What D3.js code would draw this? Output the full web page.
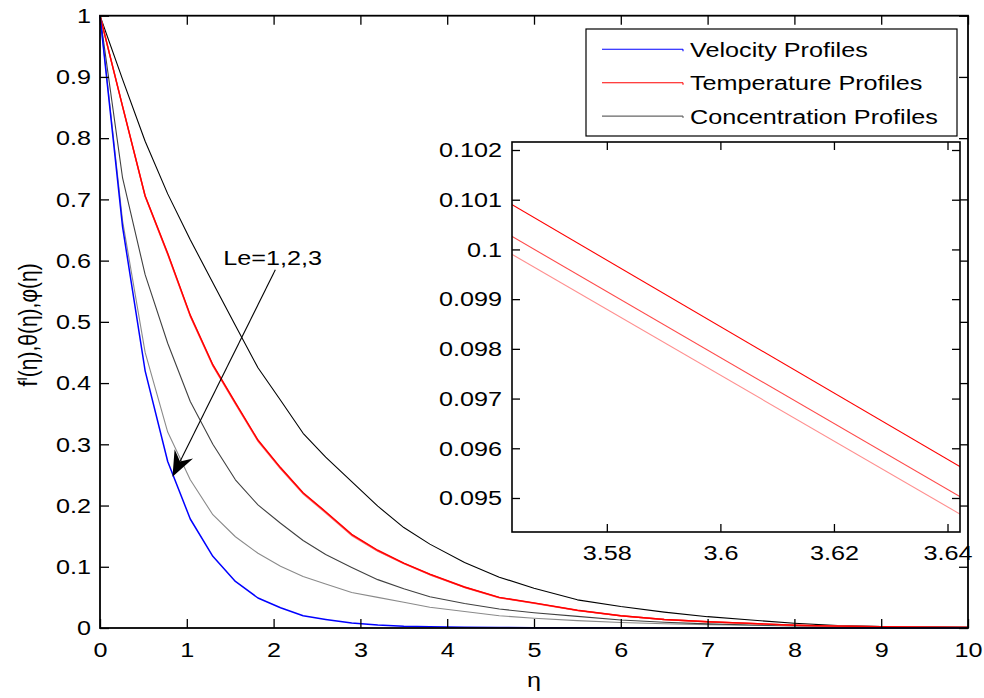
<!DOCTYPE html>
<html>
<head>
<meta charset="utf-8">
<script src="https://cdn.jsdelivr.net/npm/d3@7"></script>
<style>
  html, body { margin: 0; padding: 0; background: #fff; }
  svg { display: block; font-family: "Liberation Sans", Arial, sans-serif; }
</style>
</head>
<body>
<svg id="chart" width="984" height="698"></svg>
<script>
// ---------------- data ----------------
const eta = [0, 0.26, 0.52, 0.78, 1.04, 1.30, 1.56, 1.82, 2.08, 2.34, 2.6, 2.9, 3.2, 3.5, 3.8, 4.2, 4.6, 5.0, 5.5, 6.0, 6.5, 7.0, 7.5, 8.0, 8.5, 9.0, 9.5, 10];
const velocity = [1, 0.655, 0.42, 0.272, 0.178, 0.117, 0.076, 0.049, 0.033, 0.020, 0.014, 0.008, 0.005, 0.003, 0.002, 0.0012, 0.0008, 0.0005, 0.0004, 0.0003, 0.0002, 0.0002, 0.0001, 0.0001, 0.0001, 0.0001, 0, 0];
const tempLe1 = [1, 0.852, 0.706, 0.612, 0.511, 0.430, 0.368, 0.307, 0.262, 0.221, 0.190, 0.153, 0.127, 0.106, 0.088, 0.067, 0.050, 0.041, 0.029, 0.020, 0.014, 0.0103, 0.0075, 0.0045, 0.003, 0.002, 0.0013, 0.001];
const tempLe2 = [1, 0.852, 0.705, 0.611, 0.510, 0.429, 0.367, 0.306, 0.261, 0.220, 0.189, 0.152, 0.126, 0.1054, 0.0874, 0.0665, 0.0496, 0.0407, 0.0288, 0.0199, 0.0139, 0.0102, 0.0074, 0.0045, 0.003, 0.002, 0.0013, 0.001];
const tempLe3 = [1, 0.852, 0.705, 0.610, 0.509, 0.428, 0.366, 0.305, 0.260, 0.219, 0.188, 0.151, 0.1255, 0.105, 0.087, 0.0662, 0.0494, 0.0405, 0.0286, 0.0198, 0.0138, 0.0101, 0.0073, 0.0044, 0.003, 0.002, 0.0013, 0.001];
const concLe1 = [1, 0.896, 0.795, 0.709, 0.634, 0.564, 0.494, 0.425, 0.372, 0.318, 0.279, 0.239, 0.199, 0.164, 0.137, 0.107, 0.083, 0.065, 0.046, 0.035, 0.026, 0.0185, 0.013, 0.0077, 0.0038, 0.0025, 0.0018, 0.001];
const concLe2 = [1, 0.735, 0.577, 0.465, 0.370, 0.300, 0.242, 0.201, 0.171, 0.143, 0.120, 0.099, 0.079, 0.064, 0.051, 0.040, 0.031, 0.025, 0.019, 0.013, 0.0095, 0.0068, 0.005, 0.0038, 0.003, 0.0022, 0.0015, 0.001];
const concLe3 = [1, 0.665, 0.450, 0.320, 0.242, 0.185, 0.149, 0.122, 0.101, 0.084, 0.072, 0.058, 0.050, 0.042, 0.034, 0.027, 0.020, 0.0158, 0.012, 0.009, 0.007, 0.0055, 0.0045, 0.0035, 0.0025, 0.002, 0.0015, 0.001];

const xTicks = [0, 1, 2, 3, 4, 5, 6, 7, 8, 9, 10];
const yTicks = [0, 0.1, 0.2, 0.3, 0.4, 0.5, 0.6, 0.7, 0.8, 0.9, 1];
const yTickLabels = ["0", "0.1", "0.2", "0.3", "0.4", "0.5", "0.6", "0.7", "0.8", "0.9", "1"];

// inset (zoom of temperature profiles)
const insetEta = [3.56, 3.65];
const insetTempLe1 = [0.10112, 0.09511];
const insetTempLe2 = [0.10048, 0.09451];
const insetTempLe3 = [0.10012, 0.09416];
const insetXTicks = [3.58, 3.6, 3.62, 3.64];
const insetXTickLabels = ["3.58", "3.6", "3.62", "3.64"];
const insetYTicks = [0.095, 0.096, 0.097, 0.098, 0.099, 0.1, 0.101, 0.102];
const insetYTickLabels = ["0.095", "0.096", "0.097", "0.098", "0.099", "0.1", "0.101", "0.102"];

const legendLabels = ["Velocity Profiles", "Temperature Profiles", "Concentration Profiles"];
const annotationText = "Le=1,2,3";
const arrowFrom = [2.02, 0.585];
const arrowTo = [0.835, 0.247];
const textAt = [1.42, 0.593];

// ---------------- drawing ----------------
const SX = 1.2; // horizontal stretch of the original figure's text
const FS = 21;
const svg = d3.select("#chart");

const x = d3.scaleLinear().domain([0, 10]).range([100, 968]);
const y = d3.scaleLinear().domain([0, 1]).range([628, 15.7]);

const zip = (xs, ys) => xs.map((v, i) => [v, ys[i]]);
const line = d3.line().x(d => x(d[0])).y(d => y(d[1]));

const curves = svg.append("g").attr("fill", "none");
const series = [
  { v: concLe3, c: "#8a8a8a", w: 1.1 },
  { v: concLe2, c: "#404040", w: 1.1 },
  { v: concLe1, c: "#000000", w: 1.1 },
  { v: tempLe3, c: "#ff8a8a", w: 1.4 },
  { v: tempLe2, c: "#ff4040", w: 1.4 },
  { v: tempLe1, c: "#ff0000", w: 1.4 },
  { v: velocity, c: "#0000ff", w: 1.5 }
];
series.forEach(s => {
  curves.append("path").attr("d", line(zip(eta, s.v)))
    .attr("stroke", s.c).attr("stroke-width", s.w).attr("stroke-linejoin", "round");
});

function styleAxis(g, showText) {
  g.selectAll(".domain").remove();
  g.selectAll(".tick line").attr("stroke", "#000").attr("stroke-width", 1.3);
  g.selectAll("text").attr("font-size", FS).attr("fill", "#000")
    .attr("font-family", "'Liberation Sans', Arial, sans-serif")
    .attr("transform", `scale(${SX},1)`);
  if (!showText) g.selectAll("text").remove();
}

// main axes
const xr = x.range(), yr = y.range();
svg.append("g").attr("transform", `translate(0,${yr[0]})`)
  .call(d3.axisBottom(x).tickValues(xTicks).tickFormat(d3.format("d")).tickSizeInner(-9).tickSizeOuter(0).tickPadding(14))
  .call(g => styleAxis(g, true));
svg.append("g").attr("transform", `translate(0,${yr[1]})`)
  .call(d3.axisTop(x).tickValues(xTicks).tickSizeInner(-9).tickSizeOuter(0))
  .call(g => styleAxis(g, false));
svg.append("g").attr("transform", `translate(${xr[0]},0)`)
  .call(d3.axisLeft(y).tickValues(yTicks).tickFormat((d, i) => yTickLabels[i]).tickSizeInner(-9).tickSizeOuter(0).tickPadding(7.5))
  .call(g => styleAxis(g, true));
svg.append("g").attr("transform", `translate(${xr[1]},0)`)
  .call(d3.axisRight(y).tickValues(yTicks).tickSizeInner(-9).tickSizeOuter(0))
  .call(g => styleAxis(g, false));
svg.append("rect").attr("x", xr[0]).attr("y", yr[1]).attr("width", xr[1] - xr[0]).attr("height", yr[0] - yr[1])
  .attr("fill", "none").attr("stroke", "#000").attr("stroke-width", 1.8);

// axis labels
svg.append("text").attr("transform", `translate(${(xr[0] + xr[1]) / 2},687) scale(${SX},1)`)
  .attr("text-anchor", "middle").attr("font-size", FS).text("η");
const yl = svg.append("text").attr("transform", `translate(37,${(yr[0] + yr[1]) / 2 + 3}) rotate(-90) scale(1,${SX})`)
  .attr("text-anchor", "middle").attr("font-size", FS);
yl.append("tspan").text("f");
yl.append("tspan").attr("font-size", 12).attr("dy", -8).text("I");
yl.append("tspan").attr("dy", 8).text("(η),θ(η),φ(η)");

// annotation arrow
const ax0 = x(arrowFrom[0]), ay0 = y(arrowFrom[1]), ax1 = x(arrowTo[0]), ay1 = y(arrowTo[1]);
const len = Math.hypot(ax1 - ax0, ay1 - ay0);
const ux = (ax1 - ax0) / len, uy = (ay1 - ay0) / len;
const px = -uy, py = ux;
const headL = 25.5, headW = 10.3, notch = 17;
svg.append("line").attr("x1", ax0).attr("y1", ay0)
  .attr("x2", ax1 - ux * notch).attr("y2", ay1 - uy * notch)
  .attr("stroke", "#000").attr("stroke-width", 1.1);
const head = [
  [ax1, ay1],
  [ax1 - ux * headL + px * headW, ay1 - uy * headL + py * headW],
  [ax1 - ux * notch, ay1 - uy * notch],
  [ax1 - ux * headL - px * headW, ay1 - uy * headL - py * headW]
];
svg.append("polygon").attr("points", head.map(p => p.join(",")).join(" ")).attr("fill", "#000");
svg.append("text").attr("transform", `translate(${x(textAt[0])},${y(textAt[1])}) scale(${SX},1)`)
  .attr("font-size", FS).text(annotationText);

// inset
const ix = d3.scaleLinear().domain([3.5633, 3.6422]).range([512, 960]);
const iy = d3.scaleLinear().domain([0.094316, 0.102161]).range([532, 142]);
const ixr = ix.range(), iyr = iy.range();
const inset = svg.append("g");
inset.append("rect").attr("x", ixr[0]).attr("y", iyr[1]).attr("width", ixr[1] - ixr[0]).attr("height", iyr[0] - iyr[1])
  .attr("fill", "#fff");
inset.append("clipPath").attr("id", "insetClip").append("rect")
  .attr("x", ixr[0]).attr("y", iyr[1]).attr("width", ixr[1] - ixr[0]).attr("height", iyr[0] - iyr[1]);
const iline = d3.line().x(d => ix(d[0])).y(d => iy(d[1]));
const ig = inset.append("g").attr("clip-path", "url(#insetClip)").attr("fill", "none");
[
  { v: insetTempLe3, c: "#ff8f8f" },
  { v: insetTempLe2, c: "#ff4a4a" },
  { v: insetTempLe1, c: "#ff0000" }
].forEach(s => {
  ig.append("path").attr("d", iline(zip(insetEta, s.v))).attr("stroke", s.c).attr("stroke-width", 1.1);
});
inset.append("g").attr("transform", `translate(0,${iyr[0]})`)
  .call(d3.axisBottom(ix).tickValues(insetXTicks).tickFormat((d, i) => insetXTickLabels[i]).tickSizeInner(-8).tickSizeOuter(0).tickPadding(13))
  .call(g => styleAxis(g, true));
inset.append("g").attr("transform", `translate(0,${iyr[1]})`)
  .call(d3.axisTop(ix).tickValues(insetXTicks).tickSizeInner(-8).tickSizeOuter(0))
  .call(g => styleAxis(g, false));
inset.append("g").attr("transform", `translate(${ixr[0]},0)`)
  .call(d3.axisLeft(iy).tickValues(insetYTicks).tickFormat((d, i) => insetYTickLabels[i]).tickSizeInner(-8).tickSizeOuter(0).tickPadding(8.3))
  .call(g => styleAxis(g, true));
inset.append("g").attr("transform", `translate(${ixr[1]},0)`)
  .call(d3.axisRight(iy).tickValues(insetYTicks).tickSizeInner(-8).tickSizeOuter(0))
  .call(g => styleAxis(g, false));
inset.append("rect").attr("x", ixr[0]).attr("y", iyr[1]).attr("width", ixr[1] - ixr[0]).attr("height", iyr[0] - iyr[1])
  .attr("fill", "none").attr("stroke", "#000").attr("stroke-width", 1.6);

// legend
const lg = svg.append("g");
lg.append("rect").attr("x", 586).attr("y", 29).attr("width", 371).attr("height", 107)
  .attr("fill", "#fff").attr("stroke", "#000").attr("stroke-width", 1.2);
const legendColors = ["#0000ff", "#ff0000", "#666666"];
legendLabels.forEach((lab, i) => {
  const ry = 49.3 + i * 33.4;
  lg.append("line").attr("x1", 602).attr("x2", 683).attr("y1", ry).attr("y2", ry)
    .attr("stroke", legendColors[i]).attr("stroke-width", 1.1);
  lg.append("line").attr("x1", 683).attr("x2", 683).attr("y1", ry).attr("y2", ry + 2)
    .attr("stroke", legendColors[i]).attr("stroke-width", 1.1);
  lg.append("text").attr("transform", `translate(690,${ry + 7.5}) scale(${SX},1)`)
    .attr("font-size", FS).text(lab);
});
</script>
</body>
</html>
